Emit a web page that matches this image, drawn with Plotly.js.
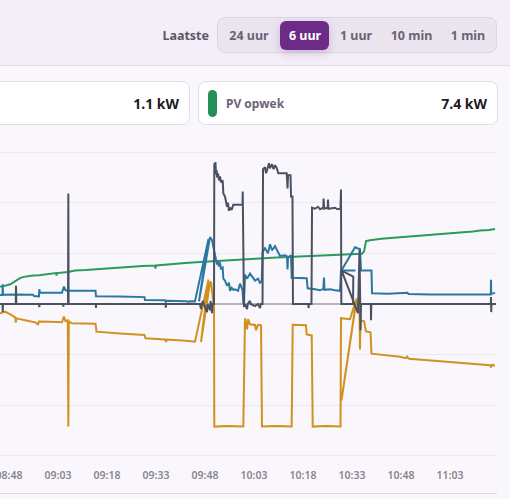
<!DOCTYPE html>
<html>
<head>
<meta charset="utf-8">
<script src="https://cdn.plot.ly/plotly-3.0.1.min.js"></script>
<style>
  html, body { margin:0; padding:0; }
  body { width:510px; height:499px; overflow:hidden; position:relative; background:#faf7fc; font-family:"Noto Sans", "Open Sans", sans-serif; }
  .hdr { position:absolute; left:0; top:0; width:510px; height:66px; background:#f3eef7; border-bottom:1px solid #e3dbea; box-sizing:border-box; }
  .lbl { position:absolute; font-weight:700; font-size:12.5px; color:#5e5668; white-space:nowrap; }
  .grp { position:absolute; left:217px; top:17px; width:280px; height:36px; box-sizing:border-box; background:#ebe5f0; border:1px solid #ddd5e5; border-radius:8px; }
  .btn { position:absolute; top:35px; transform:translate(-50%,-50%); font-weight:700; font-size:12.5px; color:#6b6274; white-space:nowrap; }
  .act { position:absolute; left:280px; top:21px; width:49px; height:29px; background:#6b2b86; border-radius:6px; box-shadow:0 3px 8px rgba(107,43,134,0.25); }
  .card { position:absolute; top:81px; height:44px; box-sizing:border-box; background:#ffffff; border:1px solid #e3dbea; border-radius:8px; }
  .val { position:absolute; top:103px; transform:translateY(-50%); font-weight:700; font-size:14px; color:#1f1a24; white-space:nowrap; }
  .pill { position:absolute; left:208px; top:90px; width:9px; height:27px; border-radius:5px; background:#23905a; }
  .sep { position:absolute; left:0; top:493px; width:497px; height:1px; background:#ddd5e5; }
  #chart { position:absolute; left:-60px; top:140px; width:570px; height:360px; }
</style>
</head>
<body>
<div class="hdr"></div>
<div class="lbl" style="left:140px; width:69px; text-align:right; top:35px; transform:translateY(-50%);">Laatste</div>
<div class="grp"></div>
<div class="act"></div>
<div class="btn" style="left:249px;">24 uur</div>
<div class="btn" style="left:305px; color:#ffffff;">6 uur</div>
<div class="btn" style="left:356px;">1 uur</div>
<div class="btn" style="left:411.5px;">10 min</div>
<div class="btn" style="left:468px;">1 min</div>

<div class="card" style="left:-20px; width:210px;"></div>
<div class="val" style="left:100px; width:79px; text-align:right;">1.1 kW</div>
<div class="card" style="left:198px; width:300px;"></div>
<div class="pill"></div>
<div class="lbl" style="left:226px; top:103px; transform:translateY(-50%); color:#6b6275; font-size:12px;">PV opwek</div>
<div class="val" style="left:400px; width:87px; text-align:right;">7.4 kW</div>

<div id="chart"></div>
<div class="sep"></div>

<script>
// Time in minutes after 08:45, values in kW
const pvT = [0.25,1.5,2.39,3.4,4.54,5.5,6.37,7.5,8.52,10.35,12.2,14.03,15.8,17.39,17.55,17.7,21.07,23.21,26.5,30.86,35,40.05,44.0,47.7,47.85,48.0,52.29,57,61.47,66,70.66,75,79.84,85,92.09,98,104.33,108,111.07,111.7,112.0,112.3,113.51,117,122.7,128,131.88,137,141.07,145,147.19,150,151.78];
const pvV = [1.70,1.75,1.85,1.95,2.2,2.4,2.55,2.68,2.75,2.82,2.85,2.9,2.97,3.05,2.8,3.05,3.15,3.3,3.35,3.45,3.55,3.7,3.75,3.8,3.5,3.8,3.95,4.05,4.15,4.22,4.3,4.4,4.5,4.6,4.7,4.8,4.9,4.92,4.95,5.2,5.9,6.2,6.3,6.45,6.6,6.75,6.8,6.95,7.05,7.15,7.25,7.3,7.4];

const useT = [0.25,1.02,1.08,1.17,5,10.35,10.66,12.19,12.28,12.49,19.23,19.54,19.84,20.3,21.07,29.48,29.64,36.98,44.48,44.64,50.76,51.0,51.37,57.19,57.8,58.2,59.94,64.07,61.17,64.53,65.15,65.76,66.37,66.68,66.98,67.29,67.6,67.9,68.42,68.61,69.13,69.74,70.35,70.66,71.18,71.67,72.19,73.11,73.72,74.48,74.73,74.94,75.25,75.86,76.78,78.31,79.23,79.84,80.36,80.61,81.37,82.29,82.9,83.51,84.43,85.44,85.96,87.49,88.1,88.26,88.41,89.33,89.54,94.14,94.44,96.68,98.21,99.22,99.44,99.6,101.27,102.8,104.33,104.64,109.07,104.79,108.92,110.45,110.76,113.97,114.13,119,125.0,125.3,131.88,141.07,150.49,150.55,150.62,151.78];
const useV = [0.88,0.88,1.95,0.92,0.95,0.92,0.78,0.74,1.45,1.12,1.12,1.35,1.72,1.35,1.3,1.3,0.76,0.74,0.68,0.4,0.38,0.2,0.32,0.28,0.2,0.28,0.26,6.4,0.26,6.6,6.3,5.3,4.3,3.9,4.3,3.7,4.1,3.5,3.6,2.5,2.3,1.8,2.1,1.3,1.6,1.4,1.45,1.3,2.0,1.4,0.1,-0.1,2.9,2.5,3.0,2.3,2.5,2.1,2.2,5.1,5.5,5.0,5.9,5.3,5.7,5.1,4.75,4.8,4.7,3.4,4.6,4.8,2.6,2.55,1.55,1.45,1.35,1.5,2.6,1.4,1.45,1.35,1.3,3.3,3.3,3.3,5.6,5.4,3.3,3.3,1.05,1.0,1.1,0.98,0.95,0.92,0.95,2.4,1.0,1.1];

const batT = [0.25,1.78,3.31,4.99,5.09,5.24,7.9,11.27,11.88,12.19,15.56,19.23,19.84,20.3,21.0,21.16,21.31,22.29,29.48,29.79,36.98,44.48,44.79,50.76,51.07,51.37,57.19,59.94,64.07,61.78,64.53,64.84,65.45,65.76,65.85,70,74.73,75.25,75.86,76.2,76.78,78.31,78.6,79.23,80.15,80.45,85,89.54,89.85,93.92,94.14,95.67,95.98,100,104.49,104.64,107.39,109.38,104.79,109.44,110.3,110.45,110.61,111.68,112.29,113.67,113.97,116.58,122.7,124.54,124.84,125.45,131.88,141.07,150.25,150.55,150.86,151.78];
const batV = [-0.92,-0.76,-1.0,-1.35,-1.85,-1.42,-1.6,-1.84,-2.05,-1.72,-1.75,-1.8,-1.25,-1.7,-1.6,-12.1,-1.7,-1.9,-1.95,-2.73,-2.9,-3.06,-3.39,-3.5,-3.75,-3.5,-3.62,-3.72,2.4,-3.75,2.1,2.2,0.4,-0.3,-12.1,-12.05,-12.1,-1.4,-2.5,-1.5,-2.0,-2.07,-2.6,-2.05,-2.1,-12.1,-12.05,-12.1,-2.05,-2.1,-3.0,-3.1,-12.1,-12.05,-12.1,-1.4,-1.5,0.55,-9.5,0.5,-1.0,-4.5,-1.6,-1.7,-2.7,-2.8,-4.9,-5.0,-5.2,-5.35,-5.2,-5.4,-5.55,-5.8,-6.05,-6.25,-6.0,-6.1];

const gridT = [0.25,1.02,1.08,1.17,5.09,5.15,5.24,12.19,12.28,12.37,19.54,19.63,19.72,21.07,21.16,21.25,29.58,29.62,29.67,50.91,51.0,51.1,61.47,61.78,62.0,62.39,62.6,63.62,63.8,64.53,64.7,65.15,65.3,65.76,65.85,66.07,66.2,66.37,66.58,66.68,66.98,67.29,67.6,67.9,68.42,68.61,69.13,69.74,70.0,70.35,70.66,71.18,71.67,74.48,74.55,74.73,74.94,75.25,75.86,76.1,76.78,77.0,78.31,79.23,79.84,80.1,80.61,80.76,81.37,81.7,82.29,82.6,82.9,83.51,84.0,84.43,85.0,85.44,88.01,88.26,88.41,89.18,89.33,89.79,89.94,94.63,94.7,94.8,95.6,95.76,96.68,97.6,98.21,99.22,99.3,99.5,100.57,100.65,100.8,102.8,103.5,104.49,104.64,104.73,108.31,108.4,104.82,109.84,110.3,110.61,110.76,113.76,113.82,113.91,150.49,150.55,150.62,150.71,152.08];
const gridV = [0,0,-0.78,0,0,1.8,0,0,-0.3,0,0,-0.25,0,0,10.9,0,0,-0.4,0,0,-0.35,0,0,-0.5,0,0.3,0,-0.8,0,-0.6,0.3,-0.9,0,0,13.9,13.4,14.0,12.8,13.2,12.5,12.9,12.2,12.6,12.0,12.2,10.9,10.6,9.6,10.0,9.2,9.5,9.3,9.8,9.8,11.1,0.2,-0.3,0,-0.5,0,0.3,0,-0.2,0,-0.4,0,0,13.3,13.5,12.9,13.6,13.9,13.4,13.8,13.3,13.7,13.4,12.9,12.9,11.4,12.7,12.7,10.6,10.6,0,0,-0.4,0,0,9.5,9.4,9.6,9.35,9.5,10.4,9.4,9.5,10.3,9.4,9.5,9.35,9.4,11.3,0,0,2.7,3.3,-0.9,5.3,-2.6,0,0,-1.6,0,0,0.7,-0.8,0,0];

const tickStart = '2024-05-01 08:48:00';
const xStart = 0.25, xEnd = 152.08;

function toDate(m) {
  const total = 8*3600 + 45*60 + Math.round(m*60);
  const hh = Math.floor(total/3600), mm = Math.floor((total%3600)/60), ss = total%60;
  const p = n => String(n).padStart(2,'0');
  return '2024-05-01 ' + p(hh) + ':' + p(mm) + ':' + p(ss);
}

const mk = (t, v, color) => ({
  x: t.map(toDate), y: v, type:'scatter', mode:'lines',
  line:{color:color, width:2}, hoverinfo:'skip', showlegend:false
});

const data = [
  mk(pvT, pvV, '#2a9a5e'),
  mk(batT, batV, '#d2901f'),
  mk(useT, useV, '#2a78a0'),
  mk(gridT, gridV, '#4a5262')
];

const layout = {
  width:570, height:360,
  margin:{l:60, r:14, t:10, b:42},
  paper_bgcolor:'rgba(0,0,0,0)', plot_bgcolor:'rgba(0,0,0,0)',
  showlegend:false,
  xaxis:{
    type:'date', range:[toDate(xStart), toDate(xEnd)],
    tick0:tickStart, dtick:15*60*1000, tickformat:'%H:%M',
    showgrid:false, zeroline:false, showline:false, ticks:'',
    ticklabelstandoff:9,
    tickfont:{family:'Noto Sans, sans-serif', size:10.5, color:'#8a8392', weight:600}
  },
  yaxis:{
    range:[-15.2,15.2], dtick:5, tick0:0,
    gridcolor:'#eee8f2', gridwidth:1,
    zeroline:true, zerolinecolor:'#b9b2bf', zerolinewidth:2,
    showline:false, ticks:'', showticklabels:false
  }
};

Plotly.newPlot('chart', data, layout, {staticPlot:true, displayModeBar:false});
</script>
</body>
</html>
